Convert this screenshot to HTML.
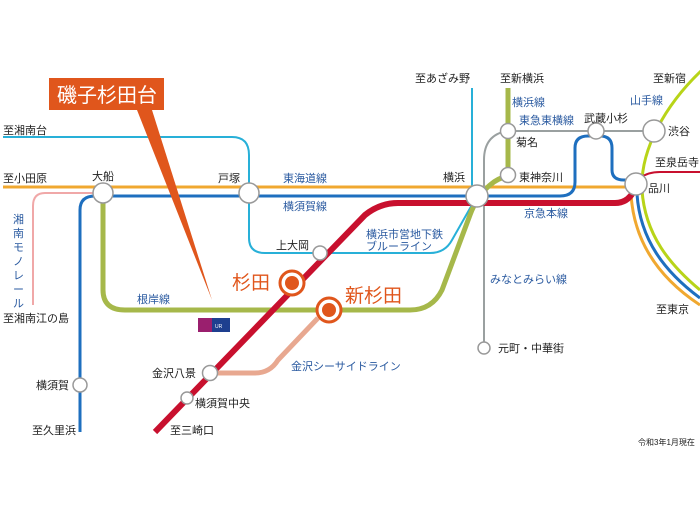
<!DOCTYPE html>
<html><head><meta charset="utf-8"><style>
html,body{margin:0;padding:0;background:#fff}
svg{display:block}
text{font-family:"Liberation Sans","Noto Sans CJK JP",sans-serif;font-size:11px;fill:#222}
.b{fill:#2a5aa0}
</style></head><body>
<svg width="700" height="525" viewBox="0 0 700 525" xmlns="http://www.w3.org/2000/svg">
<!-- Yamanote -->
<path d="M702,70 C665,105 640,150 642,190 C645,235 670,265 700,290" fill="none" stroke="#b8d418" stroke-width="3"/>
<path d="M637,194 C640,240 665,272 700,298" fill="none" stroke="#1e6fbf" stroke-width="3"/>
<path d="M631,194 C634,245 662,280 700,305" fill="none" stroke="#f0a830" stroke-width="3"/>
<!-- Sengakuji -->
<path d="M640,178 Q648,172 660,172 L700,172" fill="none" stroke="#c8102e" stroke-width="2"/>
<!-- Shonandai cyan -->
<path d="M3,137 L232,137 Q249,137 249,155 L249,238 Q249,253 265,253 L430,253 Q445,253 452,240 L477,196" fill="none" stroke="#28b0d8" stroke-width="2"/>
<line x1="472" y1="88" x2="472" y2="196" stroke="#28b0d8" stroke-width="2"/>
<!-- Shonan monorail -->
<path d="M100,193 L45,193 Q33,193 33,206 L33,305" fill="none" stroke="#f0a8a8" stroke-width="2"/>
<!-- Tokaido -->
<line x1="3" y1="187" x2="636" y2="187" stroke="#f0a830" stroke-width="3"/>
<!-- Yokosuka blue -->
<path d="M80,432 L80,210 Q80,196 95,196 L560,196 Q575,196 575,182 L575,148 Q575,136 588,136 L600,136 Q612,136 612,148 L612,170 Q612,180 624,180 L636,180" fill="none" stroke="#1e6fbf" stroke-width="3"/>
<!-- Negishi olive -->
<path d="M103,196 L103,290 Q103,310 125,310 L410,310 Q432,310 442,290 L470,215 Q477,196 490,185 Q498,178 508,176" fill="none" stroke="#a6b84a" stroke-width="5"/>
<line x1="508" y1="88" x2="508" y2="176" stroke="#a6b84a" stroke-width="5"/>
<!-- Toyoko grey -->
<path d="M484,348 L484,160 Q484,135 507,131 L654,131" fill="none" stroke="#9aa0a0" stroke-width="2"/>
<!-- Keikyu red -->
<path d="M155,432 L365,215 Q380,203 398,203 L615,203 Q630,203 636,186" fill="none" stroke="#c8102e" stroke-width="6"/>
<!-- Kanazawa seaside -->
<path d="M210,373 L255,373 Q270,373 278,360 L318,318" fill="none" stroke="#e8a890" stroke-width="5"/>
<!-- callout -->
<rect x="49" y="78" width="115" height="32" fill="#e0561c"/>
<polygon points="137,110 152,110 212,300" fill="#e0561c"/>
<text x="57" y="102" style="font-size:20px;fill:#fff">磯子杉田台</text>
<!-- UR logo -->
<rect x="198" y="318" width="32" height="14" fill="#1e3f8f"/>
<rect x="198" y="318" width="14" height="14" fill="#9a1f6e"/>
<text x="215" y="328" style="font-size:5px;fill:#fff">UR</text>
<!-- stations -->
<g fill="#fff" stroke="#999" stroke-width="1.5">
<circle cx="103" cy="193" r="10"/><circle cx="249" cy="193" r="10"/>
<circle cx="320" cy="253" r="7"/><circle cx="477" cy="196" r="11"/>
<circle cx="508" cy="131" r="7.5"/><circle cx="508" cy="175" r="7.5"/>
<circle cx="596" cy="131" r="8"/><circle cx="654" cy="131" r="11"/>
<circle cx="636" cy="184" r="11"/><circle cx="80" cy="385" r="7"/>
<circle cx="210" cy="373" r="7.5"/><circle cx="187" cy="398" r="6"/>
<circle cx="484" cy="348" r="6"/>
</g>
<g stroke="#e0561c" fill="#e0561c">
<circle cx="292" cy="283" r="12" fill="#fff" stroke-width="3"/><circle cx="292" cy="283" r="7" stroke="none"/>
<circle cx="329" cy="310" r="12" fill="#fff" stroke-width="3"/><circle cx="329" cy="310" r="7" stroke="none"/>
</g>
<!-- labels -->
<text x="3" y="134">至湘南台</text>
<text x="3" y="182">至小田原</text>
<text x="92" y="180">大船</text>
<text x="218" y="182">戸塚</text>
<text x="283" y="182" class="b">東海道線</text>
<text x="283" y="210" class="b">横須賀線</text>
<text x="276" y="249">上大岡</text>
<text x="366" y="238" class="b">横浜市営地下鉄</text>
<text x="366" y="250" class="b">ブルーライン</text>
<text x="443" y="181">横浜</text>
<text x="415" y="82">至あざみ野</text>
<text x="500" y="82">至新横浜</text>
<text x="512" y="106" class="b">横浜線</text>
<text x="519" y="124" class="b">東急東横線</text>
<text x="584" y="122">武蔵小杉</text>
<text x="516" y="146">菊名</text>
<text x="519" y="181">東神奈川</text>
<text x="653" y="82">至新宿</text>
<text x="630" y="104" class="b">山手線</text>
<text x="668" y="135">渋谷</text>
<text x="655" y="166">至泉岳寺</text>
<text x="648" y="192">品川</text>
<text x="524" y="217" class="b">京急本線</text>
<text x="490" y="283" class="b">みなとみらい線</text>
<text x="656" y="313">至東京</text>
<text x="498" y="352">元町・中華街</text>
<text x="137" y="303" class="b">根岸線</text>
<text x="232" y="289" style="font-size:19px;fill:#e0561c">杉田</text>
<text x="345" y="302" style="font-size:19px;fill:#e0561c">新杉田</text>
<text x="291" y="370" class="b">金沢シーサイドライン</text>
<text x="152" y="377">金沢八景</text>
<text x="195" y="407">横須賀中央</text>
<text x="170" y="434">至三崎口</text>
<text x="36" y="389">横須賀</text>
<text x="32" y="434">至久里浜</text>
<text x="3" y="322">至湘南江の島</text>
<g class="b" style="font-size:11px">
<text x="13" y="223" class="b">湘</text><text x="13" y="237" class="b">南</text><text x="13" y="251" class="b">モ</text><text x="13" y="265" class="b">ノ</text><text x="13" y="279" class="b">レ</text><text x="13" y="293" class="b">ー</text><text x="13" y="307" class="b">ル</text>
</g>
<text x="638" y="445" style="font-size:8px">令和3年1月現在</text>
</svg>
</body></html>
